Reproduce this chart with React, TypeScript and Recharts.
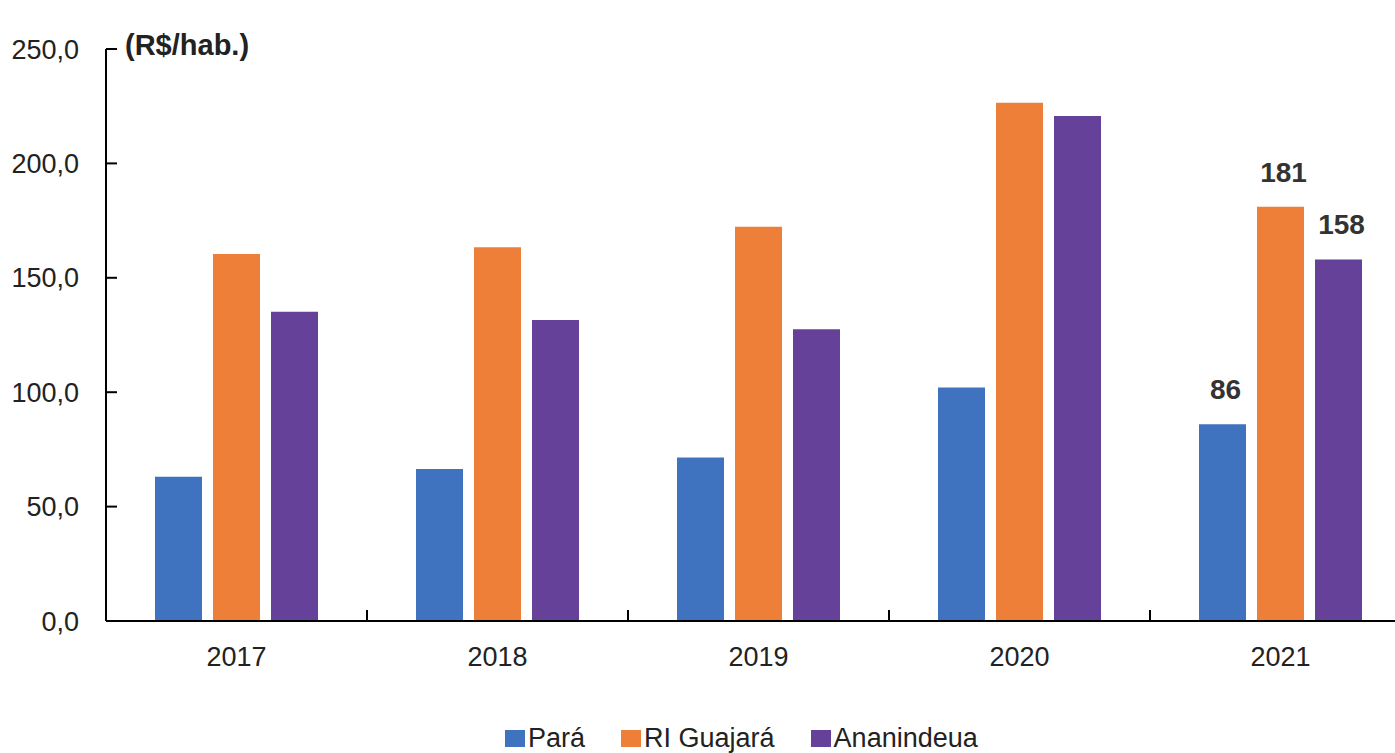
import React from "react";
import { Bar, BarChart, Legend, ReferenceLine, XAxis, YAxis } from "recharts";

const years = ["2017", "2018", "2019", "2020", "2021"];
const para = [63.1, 66.4, 71.5, 102.1, 86];
const riGuajara = [160.4, 163.3, 172.3, 226.5, 181];
const ananindeua = [135.2, 131.6, 127.5, 220.7, 158];
const yTicks = [0, 50, 100, 150, 200, 250];
const boundaries = [1, 2, 3, 4];

const series = [
  { key: "para", name: "Pará", color: "#3f72bf" },
  { key: "ri", name: "RI Guajará", color: "#ee7f38" },
  { key: "anan", name: "Ananindeua", color: "#654199" },
];

const data = years.map((year, i) => ({
  year,
  idx: i + 0.5,
  para: para[i],
  ri: riGuajara[i],
  anan: ananindeua[i],
}));

const font = "'Liberation Sans', Arial, sans-serif";

const lastLabel = (props: any) => {
  const { x, y, width, value, index } = props;
  if (index !== years.length - 1) return null;
  return (
    <text
      x={Number(x) + Number(width) / 2 + 3}
      y={Number(y) - 25}
      textAnchor="middle"
      fontFamily={font}
      fontWeight="bold"
      fontSize={28}
      fill="#333"
    >
      {Math.round(value)}
    </text>
  );
};

const LegendBox = () => (
  <div
    style={{
      display: "flex",
      alignItems: "center",
      height: 30,
      paddingTop: 20,
      marginLeft: 505,
      fontFamily: font,
      fontSize: 27,
      color: "#222",
    }}
  >
    {series.map((s, i) => (
      <div key={s.key} style={{ display: "flex", alignItems: "center", marginRight: i < 2 ? 36 : 0 }}>
        <span style={{ width: 20, height: 17, background: s.color, marginRight: 3, display: "inline-block" }} />
        <span>{s.name}</span>
      </div>
    ))}
  </div>
);

const App = () => {
  return (
    <div style={{ position: "absolute", left: 0, top: 0, width: 1395, height: 753, overflow: "hidden", background: "#fff" }}>
      <BarChart
        width={1420}
        height={753}
        data={data}
        margin={{ top: 49, right: 9, left: 0, bottom: 0 }}
        barSize={47}
        barGap={11}
      >
        <XAxis
          dataKey="year"
          tickLine={false}
          axisLine={{ stroke: "#000", strokeWidth: 2 }}
          tick={{ fontSize: 27, fill: "#222", fontFamily: font }}
          tickMargin={20}
          height={82}
        />
        <XAxis xAxisId="b" dataKey="idx" type="number" domain={[0, 5]} allowDataOverflow hide />
        <YAxis
          domain={[0, 250]}
          ticks={yTicks}
          width={106}
          tickFormatter={(v: number) => v.toFixed(1).replace(".", ",")}
          axisLine={{ stroke: "#000", strokeWidth: 2 }}
          tickLine={{ stroke: "#000", strokeWidth: 2 }}
          tickSize={-11}
          tickMargin={38}
          tick={{ fontSize: 27, fill: "#222", fontFamily: font }}
          label={{
            content: (p: any) => (
              <text
                x={p.viewBox.x + p.viewBox.width + 19}
                y={p.viewBox.y + 6}
                fontFamily={font}
                fontWeight="bold"
                fontSize={29}
                fill="#222"
              >
                (R$/hab.)
              </text>
            ),
          }}
        />
        {boundaries.map((b) => (
          <ReferenceLine
            key={b}
            xAxisId="b"
            segment={[
              { x: b, y: 0 },
              { x: b, y: 4.8 },
            ]}
            stroke="#000"
            strokeWidth={2}
          />
        ))}
        <Legend verticalAlign="bottom" content={<LegendBox />} wrapperStyle={{ left: 0, width: 1395 }} />
        {series.map((s) => (
          <Bar
            key={s.key}
            dataKey={s.key}
            name={s.name}
            fill={s.color}
            isAnimationActive={false}
            label={lastLabel}
          />
        ))}
      </BarChart>
    </div>
  );
};

export default App;
